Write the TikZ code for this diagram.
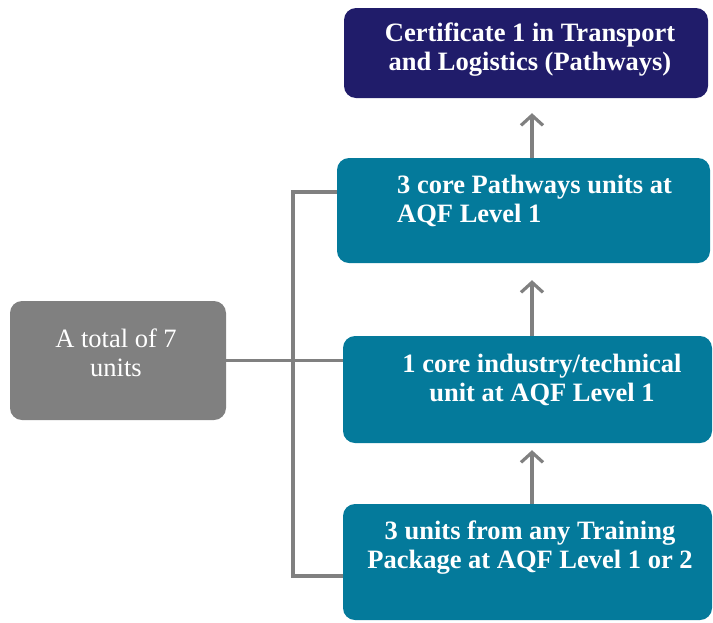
\documentclass[tikz,border=0pt]{standalone}
\usepackage{fontspec}
\setmainfont{Liberation Serif}
\usepackage{xcolor}
\usetikzlibrary{positioning,arrows.meta,calc}
\definecolor{certnavy}{RGB}{32,28,106}
\definecolor{unitteal}{RGB}{4,122,155}
\definecolor{totalgray}{RGB}{128,128,128}
\definecolor{linkgray}{RGB}{128,128,128}

\begin{document}
\begin{tikzpicture}[x=1pt,y=-1pt,
    box/.style={rounded corners=12pt, inner sep=0pt},
    unitbox/.style={box, fill=unitteal},
    boxtext/.style={text=white, inner sep=0pt, font=\fontsize{26.5}{29}\selectfont\bfseries},
    link/.style={draw=linkgray, line width=3.2pt},
    up/.style={link, -{Straight Barb[length=10pt,width=22pt]}}]
    \useasboundingbox (0,0) rectangle (713,622);
    % Caixas em coordenadas de pixel
    \node[box, fill=certnavy, minimum width=364pt, minimum height=90pt] (cert) at (526,53) {};
    \node[unitbox, minimum width=373pt, minimum height=105pt] (pathways) at (523.5,210.5) {};
    \node[unitbox, minimum width=369pt, minimum height=107pt] (industry) at (527.5,389.5) {};
    \node[unitbox, minimum width=369pt, minimum height=116pt] (training) at (527.5,562) {};
    \node[box, fill=totalgray, minimum width=216pt, minimum height=119pt] (total) at (118,360.5) {};
    % Rótulos
    \node[boxtext, align=center] (certtext) at (530,50) {Certificate 1 in Transport\\and Logistics (Pathways)};
    \node[boxtext, align=left, anchor=west] (pathwaystext) at (397,201) {3 core Pathways units at\\AQF Level 1};
    \node[boxtext, align=center] (industrytext) at (542,379.5) {1 core industry/technical\\unit at AQF Level 1};
    \node[boxtext, align=center] (trainingtext) at (530,548) {3 units from any Training\\Package at AQF Level 1 or 2};
    \node[boxtext, align=center, font=\fontsize{26.5}{29}\selectfont] (totaltext) at (116,353) {A total of 7\\units};
    % Setas para cima
    \coordinate (axis) at (532,0);
    \draw[up, shorten >=15pt] (axis |- pathways.north) -- (axis |- cert.south);
    \draw[up, shorten >=17pt] (axis |- industry.north) -- (axis |- pathways.south);
    \draw[up, shorten >=7pt] (axis |- training.north) -- (axis |- industry.south);
    % Chave à esquerda
    \coordinate (busTop) at (293,192);
    \coordinate (busBot) at (293,576);
    \draw[link] (total.east) -- (total.east -| industry.west);
    \draw[link] (pathways.west |- busTop) -- (busTop) -- (busBot) -- (training.west |- busBot);
\end{tikzpicture}
\end{document}
